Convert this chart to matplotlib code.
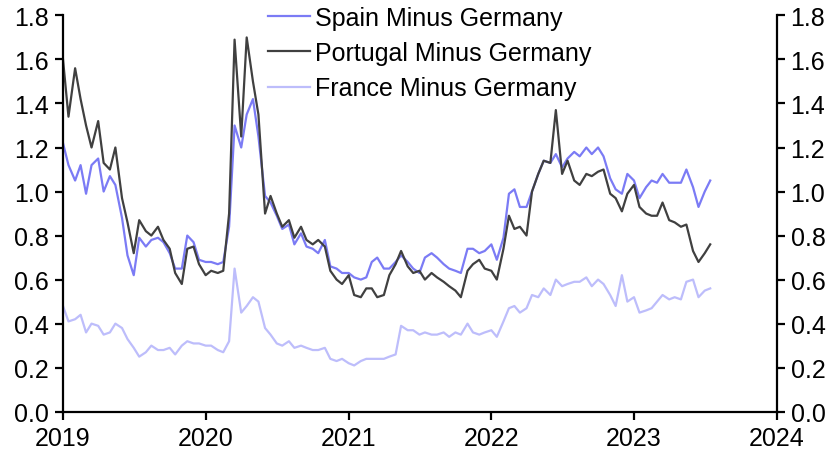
import numpy as np
import pandas as pd
import matplotlib
matplotlib.use("Agg")
import matplotlib.pyplot as plt
from matplotlib.ticker import FormatStrFormatter

plt.rcParams['font.family'] = ['Liberation Sans', 'DejaVu Sans']

# semi-monthly observations, 1 Jan 2019 to 15 Jul 2023
dates = pd.date_range('2019-01-01', '2023-07-15', freq='SMS')

spain = [
    # 2019
    1.22, 1.12, 1.05, 1.12, 0.99, 1.12, 1.15, 1.00, 1.07, 1.03, 0.88, 0.71,
    0.62, 0.79, 0.75, 0.78, 0.79, 0.77, 0.72, 0.65, 0.65, 0.80, 0.77, 0.69,
    # 2020
    0.68, 0.68, 0.67, 0.68, 0.84, 1.30, 1.20, 1.35, 1.42, 1.25, 0.98, 0.95,
    0.89, 0.83, 0.85, 0.76, 0.81, 0.75, 0.74, 0.72, 0.78, 0.66, 0.65, 0.63,
    # 2021
    0.63, 0.61, 0.60, 0.61, 0.68, 0.70, 0.65, 0.65, 0.68, 0.71, 0.68, 0.65,
    0.63, 0.70, 0.72, 0.70, 0.67, 0.65, 0.64, 0.63, 0.74, 0.74, 0.72, 0.73,
    # 2022
    0.76, 0.69, 0.79, 0.99, 1.01, 0.93, 0.93, 1.00, 1.08, 1.14, 1.13, 1.17,
    1.11, 1.15, 1.18, 1.16, 1.20, 1.17, 1.20, 1.16, 1.06, 1.01, 0.99, 1.08,
    # 2023
    1.05, 0.97, 1.02, 1.05, 1.04, 1.08, 1.04, 1.04, 1.04, 1.10, 1.02, 0.93,
    1.00, 1.05,
]

portugal = [
    # 2019
    1.60, 1.34, 1.56, 1.42, 1.30, 1.20, 1.32, 1.13, 1.10, 1.20, 0.97, 0.86,
    0.72, 0.87, 0.82, 0.80, 0.84, 0.78, 0.74, 0.63, 0.58, 0.74, 0.75, 0.67,
    # 2020
    0.62, 0.64, 0.63, 0.64, 0.90, 1.69, 1.25, 1.70, 1.50, 1.35, 0.90, 0.98,
    0.90, 0.84, 0.87, 0.79, 0.84, 0.78, 0.76, 0.78, 0.75, 0.64, 0.60, 0.58,
    # 2021
    0.62, 0.53, 0.52, 0.56, 0.56, 0.52, 0.53, 0.62, 0.67, 0.73, 0.66, 0.63,
    0.64, 0.60, 0.63, 0.61, 0.59, 0.57, 0.55, 0.52, 0.64, 0.67, 0.69, 0.65,
    # 2022
    0.64, 0.60, 0.74, 0.89, 0.83, 0.84, 0.80, 1.00, 1.08, 1.14, 1.13, 1.37,
    1.08, 1.14, 1.05, 1.03, 1.08, 1.07, 1.09, 1.10, 0.99, 0.97, 0.91, 0.99,
    # 2023
    1.03, 0.93, 0.90, 0.89, 0.89, 0.95, 0.87, 0.86, 0.84, 0.85, 0.73, 0.68,
    0.72, 0.76,
]

france = [
    # 2019
    0.48, 0.41, 0.42, 0.44, 0.36, 0.40, 0.39, 0.35, 0.36, 0.40, 0.38, 0.33,
    0.29, 0.25, 0.27, 0.30, 0.28, 0.28, 0.29, 0.26, 0.30, 0.32, 0.31, 0.31,
    # 2020
    0.30, 0.30, 0.28, 0.27, 0.32, 0.65, 0.45, 0.48, 0.52, 0.50, 0.38, 0.35,
    0.31, 0.30, 0.32, 0.29, 0.30, 0.29, 0.28, 0.28, 0.29, 0.24, 0.23, 0.24,
    # 2021
    0.22, 0.21, 0.23, 0.24, 0.24, 0.24, 0.24, 0.25, 0.26, 0.39, 0.37, 0.37,
    0.35, 0.36, 0.35, 0.35, 0.36, 0.34, 0.36, 0.35, 0.40, 0.36, 0.35, 0.36,
    # 2022
    0.37, 0.34, 0.41, 0.47, 0.48, 0.45, 0.47, 0.53, 0.52, 0.56, 0.53, 0.60,
    0.57, 0.58, 0.59, 0.59, 0.61, 0.57, 0.60, 0.58, 0.53, 0.48, 0.62, 0.50,
    # 2023
    0.52, 0.45, 0.46, 0.47, 0.50, 0.53, 0.51, 0.52, 0.51, 0.59, 0.60, 0.52,
    0.55, 0.56,
]

years = ['2019', '2020', '2021', '2022', '2023', '2024']
yticks = np.arange(0, 1.81, 0.2)


def main():
    fig = plt.figure(figsize=(8.4, 4.56), dpi=100)
    ax = fig.add_axes([0.075, 0.095, 0.8496, 0.869])

    ax.plot(dates, spain, color='#7b7bf5', lw=1.6, label='Spain Minus Germany')
    ax.plot(dates, portugal, color='#404040', lw=1.6, label='Portugal Minus Germany')
    ax.plot(dates, france, color='#bdbdfb', lw=1.6, label='France Minus Germany')

    ax.set_xlim(pd.Timestamp('2019-01-01'), pd.Timestamp('2024-01-01'))
    ax.set_ylim(0, 1.8)
    ax.set_xticks([pd.Timestamp(y + '-01-01') for y in years])
    ax.set_xticklabels(years)
    ax.set_yticks(yticks)
    ax.yaxis.set_major_formatter(FormatStrFormatter('%.1f'))

    ax.spines['top'].set_visible(False)
    for s in ['left', 'right', 'bottom']:
        ax.spines[s].set_linewidth(1.6)
    ax.tick_params(axis='both', direction='out', length=6, width=1.6,
                   labelsize=18, pad=4)
    ax.tick_params(axis='y', right=True, labelright=True)

    ax.legend(loc='upper left', bbox_to_anchor=(0.319, 0.985),
              bbox_transform=fig.transFigure, frameon=False, fontsize=18,
              handlelength=1.7, handletextpad=0.2, labelspacing=0.45,
              borderpad=0, borderaxespad=0)

    fig.savefig('out.png', dpi=100)


if __name__ == "__main__":
    main()
